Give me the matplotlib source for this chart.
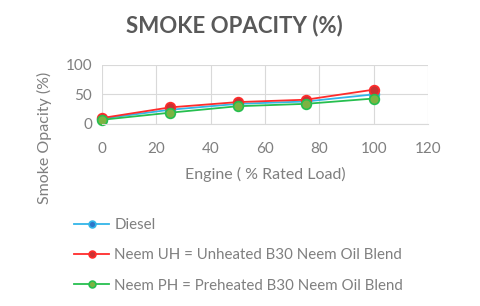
import matplotlib
matplotlib.use("Agg")
import matplotlib.pyplot as plt

load = [0, 25, 50, 75, 100]
diesel = [9, 24, 34, 38, 50]
neem_uh = [10, 28, 37, 41, 58]
neem_ph = [7, 19, 30, 34, 43]
labels = ["Diesel",
          "Neem UH = Unheated B30 Neem Oil Blend",
          "Neem PH = Preheated B30 Neem Oil Blend"]
xticks = [0, 20, 40, 60, 80, 100, 120]
yticks = [0, 50, 100]

plt.rcParams['font.family'] = ['Lato', 'DejaVu Sans']
txt = '#7f7f7f'

fig = plt.figure(figsize=(4.8, 3.06), dpi=100)
ax = fig.add_axes([0.2125, 0.595, 0.679, 0.193])

series = [
    (diesel, '#33b5e8', '#2e75c9'),
    (neem_uh, '#ff2b2b', '#c83232'),
    (neem_ph, '#26bf4f', '#7cb342'),
]
handles = []
for (vals, lc, mc), lab in zip(series, labels):
    h, = ax.plot(load, vals, color=lc, lw=1.3, marker='o', ms=7,
                 mfc=mc, mec=lc, mew=1.2, label=lab, clip_on=False)
    handles.append(h)

ax.set_xlim(0, 120)
ax.set_ylim(0, 100)
ax.set_xticks(xticks)
ax.set_yticks(yticks)
ax.grid(True, color='#d9d9d9', lw=0.8)
ax.set_axisbelow(True)
for s in ['top', 'right', 'left']:
    ax.spines[s].set_visible(False)
ax.spines['bottom'].set_color('#d9d9d9')
ax.tick_params(length=0, labelsize=11, labelcolor=txt)
ax.tick_params(axis='x', pad=13)
ax.tick_params(axis='y', pad=7)
ax.set_xlabel("Engine ( % Rated Load)", fontsize=11.5, color=txt)
ax.xaxis.set_label_coords(0.5, -0.86)
ax.set_ylabel("Smoke Opacity (%)", fontsize=11.5, color=txt)
ax.yaxis.set_label_coords(-0.175, -0.24)
ax.yaxis.label.set_va('center')
ax.xaxis.label.set_va('center')

fig.text(0.488, 0.918, "SMOKE OPACITY (%)", ha='center', va='center',
         fontsize=16, fontweight='bold', color='#595959')

leg = fig.legend(handles=handles, loc='upper left', bbox_to_anchor=(0.155, 0.287),
                 frameon=False, fontsize=10.8, labelcolor=txt, handlelength=2.3,
                 labelspacing=1.08, handletextpad=0.35, borderaxespad=0, borderpad=0,
                 markerscale=0.7)

fig.savefig("out.png", dpi=100)
